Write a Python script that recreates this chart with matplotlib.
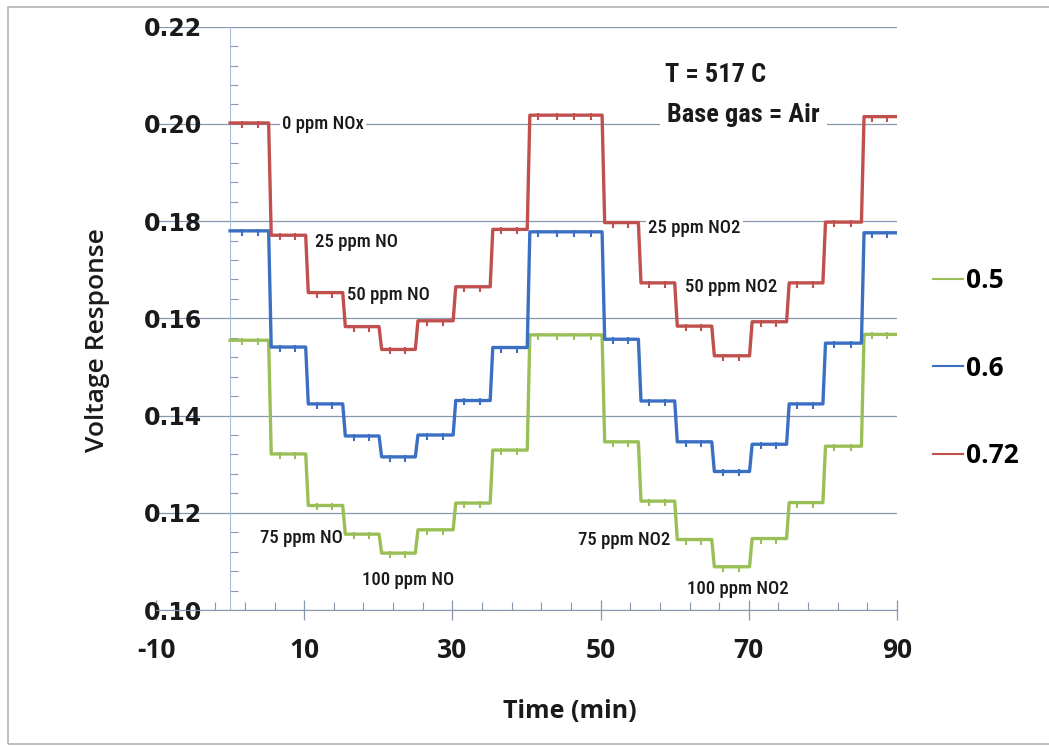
import matplotlib
matplotlib.use('Agg')
import matplotlib.pyplot as plt
from matplotlib import font_manager as fm
from matplotlib.path import Path
from matplotlib.patches import Rectangle
from matplotlib.ticker import MultipleLocator

# --- Data ---
# switching times (min); each series holds one plateau level per interval
step_times = [0, 5.2, 10.2, 15.2, 20.1, 25.0, 30.1, 35.1, 40.1,
              50.2, 55.1, 60.0, 65.0, 70.1, 75.1, 80.0, 85.2, 90]
levels_05 = [0.1555, 0.1321, 0.1215, 0.1156, 0.1117, 0.1165, 0.1220, 0.1329,
             0.1566, 0.1346, 0.1224, 0.1145, 0.1089, 0.1147, 0.1221, 0.1337, 0.1567]
levels_06 = [0.1780, 0.1541, 0.1424, 0.1358, 0.1315, 0.1360, 0.1431, 0.1540,
             0.1778, 0.1557, 0.1430, 0.1346, 0.1285, 0.1341, 0.1424, 0.1549, 0.1776]
levels_072 = [0.2002, 0.1771, 0.1653, 0.1583, 0.1536, 0.1595, 0.1665, 0.1783,
              0.2018, 0.1797, 0.1673, 0.1584, 0.1523, 0.1593, 0.1673, 0.1798, 0.2015]
series_labels = ['0.5', '0.6', '0.72']
x_ticks = [-10, 10, 30, 50, 70, 90]
y_ticks = [0.10, 0.12, 0.14, 0.16, 0.18, 0.20, 0.22]

annotations = [
    ('0 ppm NOx', 7.0, 0.2000),
    ('25 ppm NO', 11.5, 0.1758),
    ('50 ppm NO', 15.8, 0.1648),
    ('75 ppm NO', 4.1, 0.1148),
    ('100 ppm NO', 17.8, 0.1062),
    ('25 ppm NO2', 56.4, 0.1786),
    ('50 ppm NO2', 61.4, 0.1664),
    ('75 ppm NO2', 47.0, 0.1144),
    ('100 ppm NO2', 61.7, 0.1043),
]

COLORS = ['#9bbf57', '#3b6fc3', '#c0504d']
GRID = '#8797ad'
AXIS_BLUE = '#a9bfdc'
WIDE = ['Open Sans', 'DejaVu Sans']

RAMP = 0.35  # how long a switch takes to settle on the plot


def narrow_font():
    """Best condensed face on this machine for the hand-lettered notes."""
    entries = fm.fontManager.ttflist
    names = {f.name for f in entries}
    for n in ['Liberation Sans Narrow', 'Roboto Condensed', 'Open Sans Condensed',
              'Noto Sans Display', 'DejaVu Sans Condensed']:
        if n in names:
            return dict(family=[n, 'DejaVu Sans'])
    if any(f.name == 'DejaVu Sans' and f.stretch == 'condensed' for f in entries):
        return dict(family=['DejaVu Sans'], stretch='condensed')
    return dict(family=['Roboto', 'DejaVu Sans'])


def step_path(times, levels):
    xs, ys = [], []
    for i, lvl in enumerate(levels):
        start = times[i] + (RAMP if i > 0 else 0)
        xs += [start, times[i + 1]]
        ys += [lvl, lvl]
    return xs, ys


def blip_points(times, levels):
    xs, ys = [], []
    for i, lvl in enumerate(levels):
        t0, t1 = times[i], times[i + 1]
        fr = [0.3, 0.72] if t1 - t0 < 6 else [0.15, 0.4, 0.62, 0.85]
        for f in fr:
            xs.append(t0 + f * (t1 - t0))
            ys.append(lvl)
    return xs, ys


blip = Path([(0, 0.4), (0, -1)], [Path.MOVETO, Path.LINETO])
NARROW = narrow_font()

fig = plt.figure(figsize=(10.49, 7.47), dpi=100)
fig.patch.set_facecolor('white')
ax = fig.add_axes([156 / 1049, 1 - 610 / 747, 741 / 1049, 583.3 / 747])

for lv, col, lab in zip([levels_05, levels_06, levels_072], COLORS, series_labels):
    xs, ys = step_path(step_times, lv)
    ax.plot(xs, ys, color=col, lw=2.4, solid_joinstyle='round', label=lab, zorder=3)
    bx, by = blip_points(step_times, lv)
    ax.plot(bx, by, ls='none', marker=blip, markersize=7, mec=col, mew=1.5, zorder=3)

ax.set_xlim(-10, 90)
ax.set_ylim(0.10, 0.22)

# grid + axes styling
ax.set_yticks(y_ticks)
ax.set_yticklabels([f'{v:.2f}' for v in y_ticks])
ax.yaxis.set_minor_locator(MultipleLocator(0.004))
ax.set_xticks(x_ticks)
ax.set_xticklabels([str(v) for v in x_ticks])
ax.set_xticks([v for v in range(-2, 91, 4)], minor=True)
ax.grid(axis='y', color=GRID, lw=0.9, zorder=0)
ax.set_axisbelow(True)

for s in ['top', 'right']:
    ax.spines[s].set_visible(False)
ax.spines['left'].set_position(('data', 0))
ax.spines['left'].set_color(AXIS_BLUE)
ax.spines['bottom'].set_color(GRID)

ax.tick_params(axis='y', which='major', length=0, pad=20)
ax.tick_params(axis='y', which='minor', direction='in', length=6, color=GRID, width=0.8)
ax.tick_params(axis='x', which='major', direction='inout', length=15, color=GRID, width=0.9, pad=12)
ax.tick_params(axis='x', which='minor', direction='in', length=6, color=GRID, width=0.8)

for t in ax.get_yticklabels():
    t.set_fontfamily('DejaVu Sans')
    t.set_fontweight('bold')
    t.set_fontsize(17)
    t.set_color('#1a1a1a')
for t in ax.get_xticklabels():
    t.set_fontfamily(WIDE)
    t.set_fontweight('bold')
    t.set_fontsize(19)
    t.set_color('#1a1a1a')

ax.set_ylabel('Voltage Response', fontsize=19, fontweight='semibold', family=WIDE, color='#1a1a1a')
ax.yaxis.set_label_coords((97 - 156) / 741, (610 - 340) / 583.3)
ax.yaxis.label.set_va('center')
ax.set_xlabel('Time (min)', fontsize=18, fontweight='bold', family=WIDE, color='#1a1a1a')
ax.xaxis.set_label_coords((570 - 156) / 741, (610 - 712) / 583.3)
ax.xaxis.label.set_va('center')

# condition notes (white box only breaks the grid, lines stay on top)
box = dict(facecolor='white', edgecolor='none', pad=1.5)
for txt, x, y in annotations:
    ax.text(x, y, txt, fontsize=13.5, fontweight='medium', color='#1a1a1a',
            va='center', ha='left', bbox=box, zorder=2.5, **NARROW)
ax.text(58.7, 0.2101, 'T = 517 C', fontsize=19, fontweight='semibold', color='#1a1a1a',
        va='center', ha='left', zorder=2.5, **NARROW)
ax.text(59.0, 0.2018, 'Base gas = Air', fontsize=19, fontweight='semibold', color='#1a1a1a',
        va='center', ha='left', bbox=dict(facecolor='white', edgecolor='none', pad=5),
        zorder=2.5, **NARROW)

leg = ax.legend(loc='center left', bbox_to_anchor=(933 / 1049, 1 - 368 / 747),
                bbox_transform=fig.transFigure, frameon=False,
                prop={'family': WIDE, 'weight': 'bold', 'size': 19},
                handlelength=1.15, handletextpad=0.1, labelspacing=2.3,
                borderpad=0, borderaxespad=0)
for h in leg.get_lines():
    h.set_linewidth(1.5)

# chart-area frame
fig.patches.append(Rectangle((8 / 1049, 1 - 744 / 747), 1.05, 737 / 747,
                             transform=fig.transFigure, fill=False,
                             edgecolor='#b4b4b4', lw=1.2))

fig.savefig('out.png', dpi=100, facecolor='white')
